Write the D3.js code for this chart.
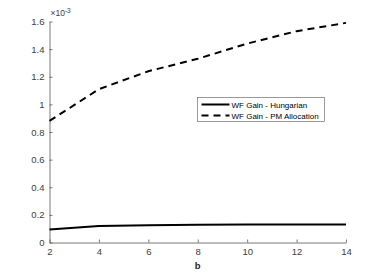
<!DOCTYPE html>
<html>
<head>
<meta charset="utf-8">
<script src="https://cdn.jsdelivr.net/npm/d3@7"></script>
<style>
  body { margin: 0; background: #fff; }
  svg text { font-family: "Liberation Sans", Arial, sans-serif; }
</style>
</head>
<body>
<svg id="chart"></svg>
<script>
// values (y in units of 1e-3)
const bValues = [2, 4, 6, 8, 10, 12, 14];
const hungarian = [0.094, 0.120, 0.125, 0.128, 0.130, 0.130, 0.130];
const pmAllocation = [0.88, 1.11, 1.24, 1.33, 1.44, 1.53, 1.59];
const xTicks = [2, 4, 6, 8, 10, 12, 14];
const yTicks = [0, 0.2, 0.4, 0.6, 0.8, 1, 1.2, 1.4, 1.6];
const seriesNames = ['WF Gain - Hungarian', 'WF Gain - PM Allocation'];

const width = 382, height = 273;
const margin = { top: 21.5, right: 36, bottom: 30.5, left: 49.5 };

const svg = d3.select('#chart')
    .attr('width', width)
    .attr('height', height);

const innerW = width - margin.left - margin.right;
const innerH = height - margin.top - margin.bottom;

const chart = svg.append('g')
    .attr('transform', `translate(${margin.left},${margin.top})`);

const xScale = d3.scaleLinear().domain([2, 14]).range([0, innerW]);
const yScale = d3.scaleLinear().domain([0, 1.6]).range([innerH, 0]);

const axisColor = '#404040';

// axes, MATLAB style with ticks pointing inward
const xAxis = chart.append('g')
    .attr('transform', `translate(0,${innerH})`)
    .call(d3.axisBottom(xScale).tickValues(xTicks).tickSizeInner(-3).tickSizeOuter(0).tickPadding(6));
const yAxis = chart.append('g')
    .call(d3.axisLeft(yScale).tickValues(yTicks).tickSizeInner(-3).tickSizeOuter(0).tickPadding(5)
        .tickFormat(d => d3.format('')(+d.toFixed(1))));

[xAxis, yAxis].forEach(ax => {
    ax.selectAll('path').attr('stroke', '#555').attr('stroke-width', 0.8);
    ax.selectAll('line').attr('stroke', '#555').attr('stroke-width', 0.8);
    ax.selectAll('text').attr('fill', axisColor).style('font-size', '9.5px');
});

// exponent label
const expo = svg.append('text')
    .attr('x', margin.left + 1)
    .attr('y', 16)
    .attr('fill', axisColor)
    .style('font-size', '8.5px');
expo.append('tspan').text('\u00d710');
expo.append('tspan').attr('dy', -3).style('font-size', '6.5px').text('-3');

// x label
svg.append('text')
    .attr('x', margin.left + innerW / 2)
    .attr('y', 269)
    .attr('text-anchor', 'middle')
    .attr('fill', '#262626')
    .style('font-size', '9.5px')
    .style('font-weight', 'bold')
    .text('b');

const line = d3.line()
    .x((d, i) => xScale(bValues[i]))
    .y(d => yScale(d));

chart.append('path')
    .datum(hungarian)
    .attr('d', line)
    .attr('fill', 'none')
    .attr('stroke', '#000')
    .attr('stroke-width', 2);

chart.append('path')
    .datum(pmAllocation)
    .attr('d', line)
    .attr('fill', 'none')
    .attr('stroke', '#000')
    .attr('stroke-width', 2)
    .attr('stroke-dasharray', '7,5');

// legend
const legend = svg.append('g').attr('transform', 'translate(197.5,97.5)');
legend.append('rect')
    .attr('width', 127)
    .attr('height', 24)
    .attr('fill', '#fff')
    .attr('stroke', '#555')
    .attr('stroke-width', 0.6);

seriesNames.forEach((name, i) => {
    const y = 7 + i * 11;
    legend.append('line')
        .attr('x1', 4).attr('x2', 32)
        .attr('y1', y).attr('y2', y)
        .attr('stroke', '#000')
        .attr('stroke-width', 2)
        .attr('stroke-dasharray', i === 1 ? '7,5' : null);
    legend.append('text')
        .attr('x', 34)
        .attr('y', y + 3)
        .attr('fill', '#000')
        .style('font-size', '8px')
        .text(name);
});
</script>
</body>
</html>
